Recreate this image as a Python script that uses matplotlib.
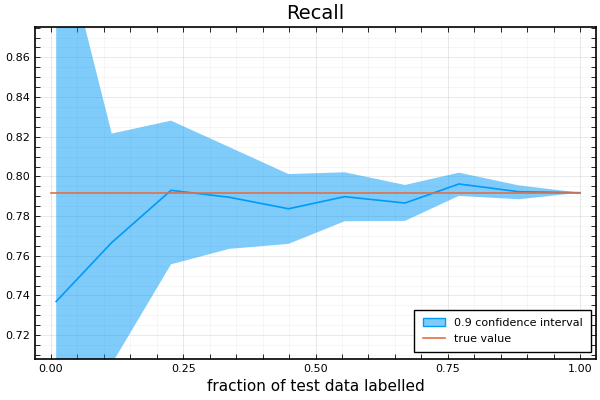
import numpy as np
import matplotlib
matplotlib.use("Agg")
import matplotlib.pyplot as plt
from matplotlib.ticker import MultipleLocator

# fraction of test data labelled
frac = [0.01, 0.115, 0.227, 0.337, 0.449, 0.555, 0.669, 0.771, 0.884, 1.0]
# estimated recall and the 0.9 confidence band
recall_est = [0.737, 0.7667, 0.7930, 0.7895, 0.7837, 0.7898, 0.7866, 0.7962, 0.7923, 0.7918]
ci_upper = [0.933, 0.8216, 0.8281, 0.8148, 0.8012, 0.8021, 0.7957, 0.8019, 0.7955, 0.7918]
ci_lower = [0.680, 0.7055, 0.7557, 0.7635, 0.7660, 0.7774, 0.7776, 0.7902, 0.7885, 0.7918]
true_x = [0.0, 1.0]
true_recall = 0.7917

blue = "#009af9"
orange = "#e26f46"

plt.rcParams['font.family'] = ['DejaVu Sans']
fig = plt.figure(figsize=(6, 4), dpi=100)
ax = fig.add_axes([35/600, 41/400, 561/600, 332/400])

ax.fill_between(frac, ci_lower, ci_upper, color=blue, alpha=0.5, linewidth=0,
                label="0.9 confidence interval")
ax.plot(frac, recall_est, color=blue, linewidth=1.2)
ax.plot(true_x, [true_recall, true_recall], color=orange, linewidth=1.2, label="true value")

ax.set_xlim(-0.03, 1.03)
ax.set_ylim(0.708, 0.8753)
ax.xaxis.set_major_locator(MultipleLocator(0.25))
ax.xaxis.set_minor_locator(MultipleLocator(0.05))
ax.yaxis.set_major_locator(MultipleLocator(0.02))
ax.yaxis.set_minor_locator(MultipleLocator(0.005))
ax.xaxis.set_major_formatter(matplotlib.ticker.FormatStrFormatter('%.2f'))
ax.yaxis.set_major_formatter(matplotlib.ticker.FormatStrFormatter('%.2f'))

ax.grid(True, which='major', color='black', alpha=0.1, linewidth=0.6)
ax.grid(True, which='minor', color='black', alpha=0.05, linewidth=0.5)
ax.set_axisbelow(True)
ax.tick_params(which='both', direction='in', top=True, right=True, labelsize=8,
               color='black', length=3.5, width=0.6)
for s in ax.spines.values():
    s.set_linewidth(1.2)

ax.set_title("Recall", fontsize=14)
ax.set_xlabel("fraction of test data labelled", fontsize=11)

# legend patch for the band gets an outline like Plots ribbons
h, l = ax.get_legend_handles_labels()
leg = ax.legend(h, l, loc='lower right', fontsize=8, fancybox=False,
                edgecolor='black', framealpha=1, borderpad=0.75,
                borderaxespad=0, bbox_to_anchor=(0.991, 0.021))
leg.get_frame().set_linewidth(1.0)
patch = leg.legend_handles[0]
patch.set_edgecolor(blue)
patch.set_linewidth(1.0)

fig.savefig("out.png", dpi=100)
